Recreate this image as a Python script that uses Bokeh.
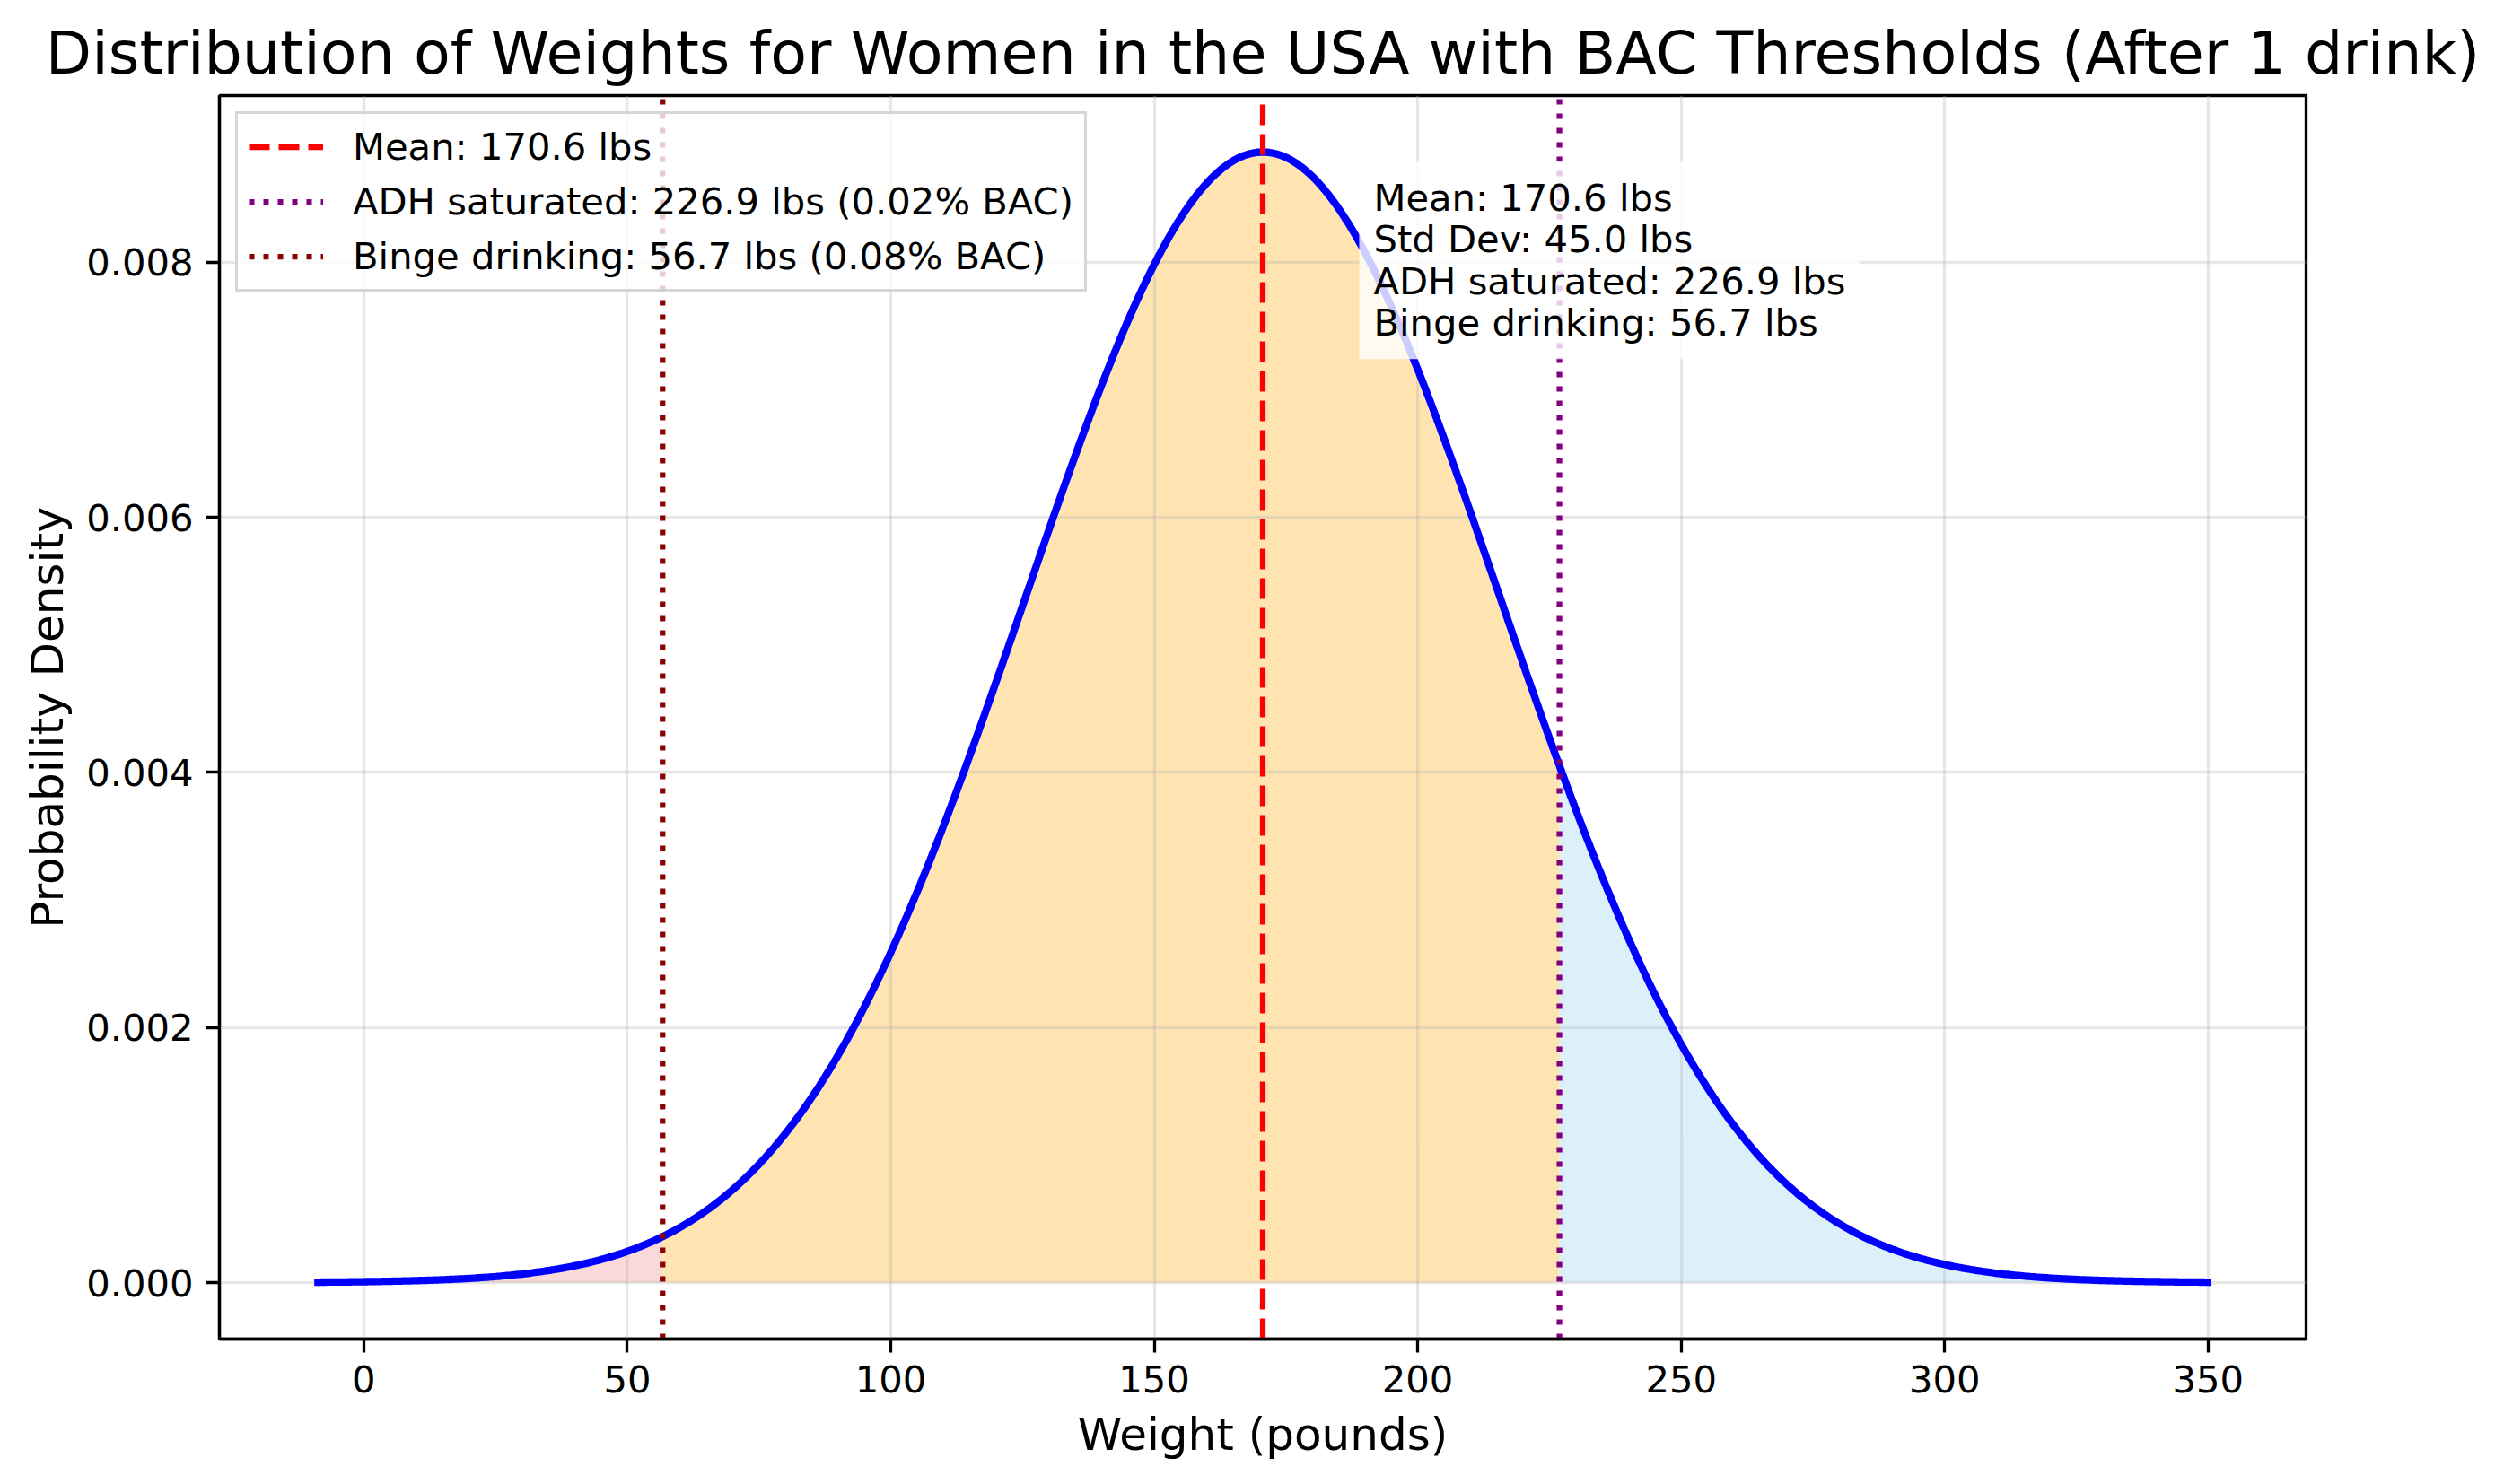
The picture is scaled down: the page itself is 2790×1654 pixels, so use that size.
import numpy as np
from bokeh.plotting import figure
from bokeh.models import (Range1d, FixedTicker, PrintfTickFormatter, Legend,
                          LegendItem, Label, Title)
from bokeh.embed import file_html
from bokeh.resources import INLINE

# ---- data -------------------------------------------------------------
weight_mean = 170.6          # lbs
weight_std = 45.0            # lbs
adh_threshold = 226.9        # lbs (0.02% BAC)
binge_threshold = 56.7       # lbs (0.08% BAC)
x_ticks = [0, 50, 100, 150, 200, 250, 300, 350]
y_ticks = [0.000, 0.002, 0.004, 0.006, 0.008]

title_text = "Distribution of Weights for Women in the USA with BAC Thresholds (After 1 drink)"
legend_labels = [
    f"Mean: {weight_mean:.1f} lbs",
    f"ADH saturated: {adh_threshold:.1f} lbs (0.02% BAC)",
    f"Binge drinking: {binge_threshold:.1f} lbs (0.08% BAC)",
]
info_text = (f"Mean: {weight_mean:.1f} lbs\n"
             f"Std Dev: {weight_std:.1f} lbs\n"
             f"ADH saturated: {adh_threshold:.1f} lbs\n"
             f"Binge drinking: {binge_threshold:.1f} lbs")

# normal density curve defined by the stated mean / std (mean +/- 4 sd)
x = np.linspace(weight_mean - 4 * weight_std, weight_mean + 4 * weight_std, 1000)
x = np.sort(np.concatenate([x, [binge_threshold, adh_threshold]]))
pdf = np.exp(-0.5 * ((x - weight_mean) / weight_std) ** 2) / (weight_std * np.sqrt(2 * np.pi))
peak = pdf.max()

# ---- styling ----------------------------------------------------------
FONT = "DejaVu Sans"
xpad = 0.05 * (x.max() - x.min())
ypad = 0.05 * peak
y_lo, y_hi = -ypad, peak + ypad

p = figure(width=2774, height=1638, output_backend="svg", toolbar_location=None,
           x_range=Range1d(x.min() - xpad, x.max() + xpad),
           y_range=Range1d(y_lo, y_hi),
           min_border_left=244, min_border_right=205,
           min_border_top=106, min_border_bottom=146)
p.background_fill_color = "white"
p.border_fill_color = "white"
p.outline_line_color = "black"
p.outline_line_width = 3.3
p.outline_line_alpha = 1

p.title = Title(text=title_text, text_font=FONT, text_font_size="66.7px",
                text_font_style="normal", text_color="black",
                align="center", standoff=17)

# axes
for ax in (p.xaxis[0], p.yaxis[0]):
    ax.axis_line_width = 3.3
    ax.major_tick_line_width = 3.3
    ax.major_tick_out = 15
    ax.major_tick_in = 0
    ax.minor_tick_out = 0
    ax.minor_tick_in = 0
    ax.major_label_text_font = FONT
    ax.major_label_text_font_size = "41.7px"
    ax.major_label_text_color = "black"
    ax.axis_label_text_font = FONT
    ax.axis_label_text_font_size = "50px"
    ax.axis_label_text_font_style = "normal"
    ax.axis_label_text_color = "black"
    ax.major_label_standoff = 14

p.xaxis.axis_label_standoff = 15
p.yaxis.axis_label_standoff = 11
p.xaxis.axis_label = "Weight (pounds)"
p.yaxis.axis_label = "Probability Density"
p.xaxis.ticker = FixedTicker(ticks=x_ticks)
p.yaxis.ticker = FixedTicker(ticks=y_ticks)
p.yaxis.formatter = PrintfTickFormatter(format="%.3f")

p.grid.grid_line_color = "#b0b0b0"
p.grid.grid_line_alpha = 0.3
p.grid.grid_line_width = 3.3

# shaded regions
m_low = x <= binge_threshold
m_mid = (x >= binge_threshold) & (x <= adh_threshold)
m_high = x >= adh_threshold
for mask, col in ((m_low, "lightcoral"), (m_mid, "orange"), (m_high, "skyblue")):
    p.varea(x=x[mask], y1=0, y2=pdf[mask], fill_color=col, fill_alpha=0.3, level="image")

# density curve
p.line(x, pdf, line_color="blue", line_width=8.3)

# threshold lines
r_mean = p.line([weight_mean, weight_mean], [y_lo, y_hi], line_color="red",
                line_width=6.25, line_dash="23 10")
r_adh = p.line([adh_threshold, adh_threshold], [y_lo, y_hi], line_color="purple",
               line_width=6.25, line_dash="6 10")
r_binge = p.line([binge_threshold, binge_threshold], [y_lo, y_hi], line_color="darkred",
                 line_width=6.25, line_dash="6 10")

legend = Legend(items=[LegendItem(label=legend_labels[0], renderers=[r_mean]),
                       LegendItem(label=legend_labels[1], renderers=[r_adh]),
                       LegendItem(label=legend_labels[2], renderers=[r_binge])],
                location="top_left")
legend.label_text_font = FONT
legend.label_text_font_size = "41.7px"
legend.label_text_color = "black"
legend.glyph_width = 83
legend.glyph_height = 41
legend.label_height = 41
legend.label_standoff = 33
legend.spacing = 12
legend.padding = 12
legend.margin = 18
legend.border_line_color = "#cccccc"
legend.border_line_width = 3.3
legend.border_line_alpha = 0.8
legend.background_fill_color = "white"
legend.background_fill_alpha = 0.8
p.add_layout(legend)

info = Label(x=weight_mean + 20, y=peak * 0.98, text=info_text,
             text_font=FONT, text_font_size="41.7px", text_color="black",
             text_align="left", text_baseline="top", text_line_height=0.95,
             x_offset=-10, y_offset=15,
             background_fill_color="white", background_fill_alpha=0.8,
             padding=16)
p.add_layout(info)

open("out.html", "w").write(file_html(p, INLINE))
